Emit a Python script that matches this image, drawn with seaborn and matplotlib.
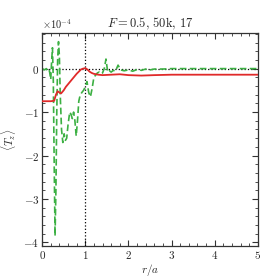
import numpy as np
import pandas as pd
import matplotlib
matplotlib.use('Agg')
import matplotlib.pyplot as plt
import seaborn as sns
from matplotlib.ticker import MultipleLocator, ScalarFormatter

# data (values in units of 1e-4)
green_x = [0.00, 0.05, 0.10, 0.14, 0.17, 0.20, 0.22, 0.24, 0.26, 0.28,
           0.30, 0.32, 0.34, 0.36, 0.38, 0.40, 0.42, 0.45, 0.48, 0.51,
           0.54, 0.57, 0.60, 0.64, 0.67, 0.70, 0.73, 0.76, 0.79, 0.82,
           0.85, 0.88, 0.92, 0.96, 1.00, 1.04, 1.08, 1.12, 1.16, 1.20,
           1.24, 1.28, 1.32, 1.36, 1.40, 1.44, 1.48, 1.52, 1.56, 1.60,
           1.65, 1.70, 1.76, 1.82, 1.90, 2.0, 2.1, 2.2, 2.3, 2.4,
           2.5, 2.6, 2.8, 3.0, 3.5, 4.0, 4.5, 5.0]
green_y = [0.00, -0.03, 0.00, -0.08, -0.05, -0.25, 0.15, 0.48, -0.3, -2.2,
           -3.85, -2.8, -1.0, 0.2, 0.62, 0.3, -0.6, -1.4, -1.7, -1.5,
           -1.65, -1.6, -1.3, -1.0, -1.05, -1.15, -1.0, -1.2, -1.55, -1.2,
           -0.75, -0.62, -0.55, -0.5, -0.42, -0.3, -0.55, -0.65, -0.45, -0.2,
           -0.15, -0.1, -0.08, -0.12, -0.1, 0.0, 0.22, -0.08, -0.05, -0.08,
           -0.04, -0.06, 0.08, -0.03, -0.05, -0.03, -0.06, -0.02, -0.04, -0.01,
           -0.03, -0.01, -0.01, 0.0, 0.0, 0.0, 0.0, 0.0]

red_x = [0.0, 0.1, 0.2, 0.28, 0.32, 0.36, 0.40, 0.44, 0.50, 0.55,
         0.60, 0.65, 0.70, 0.75, 0.80, 0.85, 0.90, 0.95, 1.00, 1.05,
         1.10, 1.15, 1.20, 1.30, 1.40, 1.60, 1.80, 2.0, 2.3, 2.6,
         3.0, 3.5, 4.0, 4.5, 5.0]
red_y = [-0.75, -0.75, -0.75, -0.74, -0.6, -0.52, -0.55, -0.57, -0.5, -0.42,
         -0.36, -0.3, -0.24, -0.18, -0.12, -0.07, -0.02, 0.0, 0.01, -0.02,
         -0.07, -0.1, -0.12, -0.14, -0.15, -0.14, -0.13, -0.15, -0.16, -0.15,
         -0.14, -0.14, -0.14, -0.14, -0.14]

green = pd.DataFrame({'r': green_x, 'Tz': np.array(green_y) * 1e-4})
red = pd.DataFrame({'r': red_x, 'Tz': np.array(red_y) * 1e-4})

sns.set_style('ticks')
plt.rcParams['font.family'] = 'serif'
plt.rcParams['font.serif'] = ['cmr10', 'DejaVu Serif']
plt.rcParams['mathtext.fontset'] = 'cm'
plt.rcParams['axes.formatter.use_mathtext'] = True
plt.rcParams['axes.unicode_minus'] = True

fig = plt.figure(figsize=(2.77, 2.77), dpi=100)
ax = fig.add_axes([0.152, 0.112, 0.779, 0.769])

ax.axhline(0, color='black', ls=':', lw=0.9, zorder=1)
ax.axvline(1, color='black', ls=':', lw=0.9, zorder=1)

sns.lineplot(data=green, x='r', y='Tz', ax=ax, color='#3cb043',
             lw=1.2, dashes=False, zorder=2)
ax.lines[-1].set_linestyle((0, (4, 2)))
sns.lineplot(data=red, x='r', y='Tz', ax=ax, color='#e02a2a',
             lw=1.3, zorder=3)

ax.set_xlim(0, 5)
ax.set_ylim(-4.08e-4, 0.82e-4)
ax.xaxis.set_major_locator(MultipleLocator(1))
ax.xaxis.set_minor_locator(MultipleLocator(0.2))
ax.yaxis.set_major_locator(MultipleLocator(1e-4))
ax.yaxis.set_minor_locator(MultipleLocator(0.2e-4))
fmt = ScalarFormatter(useMathText=True)
fmt.set_powerlimits((0, 0))
ax.yaxis.set_major_formatter(fmt)
ax.yaxis.get_offset_text().set_fontsize(7.5)

ax.tick_params(which='both', direction='in', top=True, right=True,
               labelsize=8, color='#333333', pad=2)
ax.tick_params(which='major', length=4, width=0.8)
ax.tick_params(which='minor', length=2, width=0.6)
for s in ax.spines.values():
    s.set_linewidth(0.9)
    s.set_color('#333333')

ax.set_xlabel(r'$r/a$', fontsize=8, labelpad=1)
ax.set_ylabel(r'$\langle T_z \rangle$', fontsize=8, labelpad=4)
ax.set_title(r'$F = 0.5$, 50k, 17', fontsize=9, pad=4)

fig.savefig('out.png', dpi=100)
